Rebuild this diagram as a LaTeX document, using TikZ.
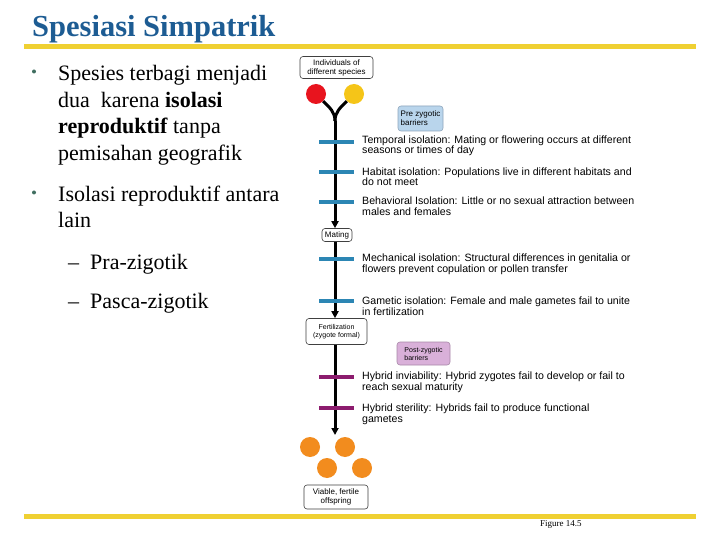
\documentclass[tikz,border=0pt]{standalone}
\usepackage{fontspec}
\setmainfont{Liberation Serif}
\newfontfamily\arialfam{Liberation Sans}
\usetikzlibrary{arrows.meta}
\definecolor{titleblue}{HTML}{1D5C93}
\definecolor{rulegold}{HTML}{EFD032}
\definecolor{bulletgreen}{HTML}{3F6E60}
\definecolor{barblue}{HTML}{2C86B4}
\definecolor{barpurple}{HTML}{8C1C6E}
\definecolor{prezfill}{HTML}{B9D5EC}
\definecolor{prezborder}{HTML}{8EA6BC}
\definecolor{postfill}{HTML}{D9B0D9}
\definecolor{postborder}{HTML}{A888A8}
\definecolor{cred}{HTML}{E8141E}
\definecolor{cyellow}{HTML}{F5C518}
\definecolor{corange}{HTML}{F28C1E}
\newcommand{\myboxfont}{\arialfam\fontsize{8}{9}\selectfont}
\newcommand{\mysmallboxfont}{\arialfam\fontsize{7}{8}\selectfont}
\newcommand{\mydescfont}{\arialfam\fontsize{10.6}{10.6}\selectfont}
\newcommand{\mybodyfont}{\fontsize{22}{26}\selectfont}
\begin{document}
\begin{tikzpicture}[x=1pt,y=-1pt,
  box/.style={draw=black!75, line width=0.6pt, rounded corners=3pt, fill=white, inner sep=0pt, align=center, font=\myboxfont},
  stem/.style={line width=3pt, black},
  stemarrow/.style={-{Triangle[length=7pt,width=7pt]}},
  hbar/.style={rectangle, minimum width=35pt, minimum height=4pt, inner sep=0pt, draw=none},
  dot/.style={circle, minimum size=20pt, inner sep=0pt, draw=none},
  body/.style={anchor=base west, inner sep=0pt, font=\mybodyfont},
  desc/.style={anchor=base west, inner sep=0pt, font=\mydescfont},
  goldrule/.style={rulegold, line width=5pt}
]
\useasboundingbox[fill=white] (0,0) rectangle (720,540);

% title and rules
\node[anchor=base west, inner sep=0pt, text=titleblue, font=\fontsize{30.5}{30.5}\selectfont\bfseries] (title) at (32,37) {Spesiasi Simpatrik};
\draw[goldrule] (24,47) -- (696,47);
\draw[goldrule] (24,516) -- (696,516);

% left bullets
\node[circle, fill=bulletgreen, minimum size=4pt, inner sep=0pt] (bul1) at (34,71.5) {};
\node[body] (l1) at (58,81) {Spesies terbagi menjadi};
\node[body] (l2) at (58,108) {dua\ \ karena \textbf{isolasi}};
\node[body] (l3) at (58,134) {\textbf{reproduktif} tanpa};
\node[body] (l4) at (58,161) {pemisahan geografik};
\node[circle, fill=bulletgreen, minimum size=4pt, inner sep=0pt] (bul2) at (34,192.5) {};
\node[body] (l5) at (58,202) {Isolasi reproduktif antara};
\node[body] (l6) at (58,228) {lain};
\node[body] (d1) at (68,269) {\textendash};
\node[body] (l7) at (90,269) {Pra-zigotik};
\node[body] (d2) at (68,308) {\textendash};
\node[body] (l8) at (90,308) {Pasca-zigotik};

% diagram nodes
\node[box, minimum width=73pt, minimum height=22pt] (indiv) at (336.5,67.5) {Individuals of\\different species};
\node[dot, fill=cred] (red) at (316,94) {};
\node[dot, fill=cyellow] (yellow) at (354,94) {};
\coordinate (junc) at (335,121);
\node[box, minimum width=30pt, minimum height=13pt] (mating) at (337,235) {Mating};
\node[box, minimum width=61pt, minimum height=26pt, font=\mysmallboxfont] (fert) at (336.5,331.5) {Fertilization\\(zygote formal)};
\coordinate (fertend) at (335,435);
\node[dot, fill=corange] (o1) at (310,447) {};
\node[dot, fill=corange] (o2) at (345,447) {};
\node[dot, fill=corange] (o3) at (327,468) {};
\node[dot, fill=corange] (o4) at (362,468) {};
\node[box, minimum width=64pt, minimum height=24pt] (viable) at (336,497) {Viable, fertile\\offspring};

\node[draw=prezborder, fill=prezfill, line width=0.6pt, rounded corners=3pt, minimum width=45pt, minimum height=25pt, align=left, inner sep=1pt, font=\myboxfont] (prez) at (420.5,118.5) {Pre zygotic\\barriers};
\node[draw=postborder, fill=postfill, line width=0.6pt, rounded corners=3pt, minimum width=53pt, minimum height=23pt, align=left, inner sep=1pt, font=\mysmallboxfont] (postz) at (423.5,353.5) {Post-zygotic\\barriers};

% stem and branches
\draw[stem] (red) .. controls (330,108) and (335,112) .. (junc);
\draw[stem] (yellow) .. controls (340,108) and (335,112) .. (junc);
\draw[stem, stemarrow] (junc) -- (junc |- mating.north);
\draw[stem, stemarrow] (junc |- mating.south) -- (junc |- fert.north);
\draw[stem, stemarrow] (junc |- fert.south) -- (fertend);

% barrier bars
\node[hbar, fill=barblue] (bTemp) at (336,142) {};
\node[hbar, fill=barblue] (bHab) at (336,172) {};
\node[hbar, fill=barblue] (bBeh) at (336,202) {};
\node[hbar, fill=barblue] (bMech) at (336,259) {};
\node[hbar, fill=barblue] (bGam) at (336,301) {};
\node[hbar, fill=barpurple] (bInv) at (336,377) {};
\node[hbar, fill=barpurple] (bSter) at (336,408) {};

% descriptions
\node[desc] (t1a) at (362,143.5) {Temporal isolation: Mating or flowering occurs at different};
\node[desc] (t1b) at (362,153.5) {seasons or times of day};
\node[desc] (t2a) at (362,175.5) {Habitat isolation: Populations live in different habitats and};
\node[desc] (t2b) at (362,186) {do not meet};
\node[desc] (t3a) at (362,205) {Behavioral Isolation: Little or no sexual attraction between};
\node[desc] (t3b) at (362,215) {males and females};
\node[desc] (t4a) at (362,261.5) {Mechanical isolation: Structural differences in genitalia or};
\node[desc] (t4b) at (362,272) {flowers prevent copulation or pollen transfer};
\node[desc] (t5a) at (362,304) {Gametic isolation: Female and male gametes fail to unite};
\node[desc] (t5b) at (362,315) {in fertilization};
\node[desc] (t6a) at (362,379.5) {Hybrid inviability: Hybrid zygotes fail to develop or fail to};
\node[desc] (t6b) at (362,390.5) {reach sexual maturity};
\node[desc] (t7a) at (362,411) {Hybrid sterility: Hybrids fail to produce functional};
\node[desc] (t7b) at (362,422) {gametes};

\node[anchor=base west, inner sep=0pt, font=\fontsize{9}{9}\selectfont] (fig) at (540,526.5) {Figure 14.5};
\end{tikzpicture}
\end{document}
